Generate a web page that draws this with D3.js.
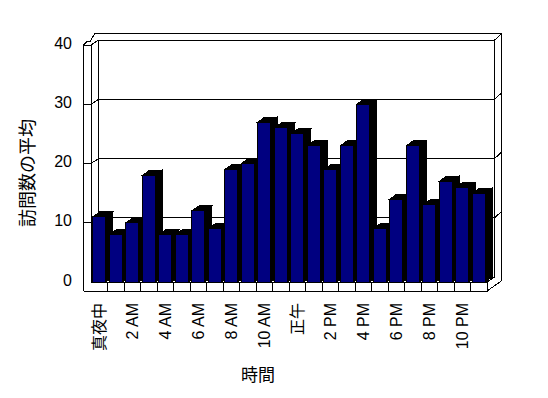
<!DOCTYPE html>
<html>
<head>
<meta charset="utf-8">
<script src="https://cdn.jsdelivr.net/npm/d3@7"></script>
<style>
  body { margin: 0; background: #fff; }
  svg { display: block; }
  text { font-family: "Liberation Sans", "Noto Sans CJK JP", sans-serif; fill: #000; }
</style>
</head>
<body>
<svg id="chart" width="548" height="398"></svg>
<script>
// data
const hours = ["真夜中", "1 AM", "2 AM", "3 AM", "4 AM", "5 AM", "6 AM", "7 AM", "8 AM", "9 AM", "10 AM", "11 AM",
               "正午", "1 PM", "2 PM", "3 PM", "4 PM", "5 PM", "6 PM", "7 PM", "8 PM", "9 PM", "10 PM", "11 PM"];
const visits = [11, 8, 10, 18, 8, 8, 12, 9, 19, 20, 27, 26, 25, 23, 19, 23, 30, 9, 14, 23, 13, 17, 16, 15];
const yTicks = [0, 10, 20, 30, 40];
const xTickLabels = hours.filter((d, i) => i % 2 === 0);
const yTitle = "訪問数の平均";
const xTitle = "時間";

const svg = d3.select("#chart");

// front plane of the plot
const plotLeft = 91, plotRight = 487, plotBase = 282, plotTop = 45;
const dx = 7.7, dy = -5;        // depth of the plot box
const wx = 7, wy = -6.5;        // back wall thickness
const sideX = 83.5;             // outer face of side wall
const floorBottom = 291;

const x = d3.scaleBand().domain(hours).range([plotLeft, plotRight])
  .paddingInner(0.23).paddingOuter(0.115);
const y = d3.scaleLinear().domain([0, 40]).range([plotBase, plotTop]);

const line = d3.line();
const frame = svg.append("g")
  .attr("fill", "none").attr("stroke", "#000").attr("stroke-width", 1)
  .attr("shape-rendering", "crispEdges");

// back wall face
frame.append("rect")
  .attr("x", plotLeft + dx).attr("y", y(40) + dy)
  .attr("width", plotRight - plotLeft).attr("height", y(0) - y(40))
  .attr("fill", "#fff");

// outer edges of walls
frame.append("path").attr("d", line([
  [sideX, floorBottom], [sideX, y(40)], [sideX + 4.2, y(40) - 4], [plotLeft - 0.5, y(40) - 4],
  [plotLeft + dx - 4, y(40) + dy + wy], [plotRight + dx + wx, y(40) + dy + wy], [plotRight + dx + wx, plotBase + dy + 3.7]
]));
frame.append("path").attr("d", line([[plotLeft, plotBase], [plotLeft, y(40)]]));

// gridlines through side wall, back wall and its thickness
yTicks.filter(v => v > 0).forEach(v => {
  frame.append("path").attr("d", line([
    [sideX, y(v)], [plotLeft, y(v)], [plotLeft + dx, y(v) + dy],
    [plotRight + dx, y(v) + dy], [plotRight + dx + wx, y(v) + dy + wy]
  ]));
});

// floor
frame.append("path").attr("d", line([[plotLeft, plotBase], [plotLeft + dx, plotBase + dy]]));
frame.append("path").attr("d", line([[plotRight, plotBase], [plotRight + dx, plotBase + dy]]));
frame.append("path").attr("d", line([[plotRight, floorBottom], [plotRight + dx + wx, plotBase + dy + 3.7]]));
frame.append("path").attr("d", line([[plotLeft, plotBase], [plotRight, plotBase], [plotRight, floorBottom], [sideX, floorBottom]]));
hours.slice(1).forEach(h => {
  const xx = x(h) - x.step() * 0.115;
  frame.append("path").attr("d", line([[xx, plotBase], [xx, floorBottom]]));
});

// bars
const bdx = 7, bdy = -5;
const bw = x.bandwidth();
const bars = svg.append("g").attr("shape-rendering", "crispEdges");
hours.forEach((h, i) => {
  const bx = x(h), by = y(visits[i]);
  const g = bars.append("g");
  g.append("path")
    .attr("d", line([[bx + bw, by], [bx + bw + bdx, by + bdy], [bx + bw + bdx, plotBase + bdy], [bx + bw, plotBase]]) + "Z")
    .attr("fill", "#000").attr("stroke", "#000");
  g.append("path")
    .attr("d", line([[bx, by], [bx + bdx, by + bdy], [bx + bw + bdx, by + bdy], [bx + bw, by]]) + "Z")
    .attr("fill", "#000").attr("stroke", "#000");
  g.append("rect")
    .attr("x", bx).attr("y", by).attr("width", bw).attr("height", plotBase - by)
    .attr("fill", "#000080").attr("stroke", "#000");
});

// y tick labels
svg.append("g").selectAll("text").data(yTicks).join("text")
  .attr("x", 72).attr("y", d => y(d) - 2)
  .attr("text-anchor", "end").attr("dominant-baseline", "central")
  .attr("font-size", 16)
  .text(d => d);

// x tick labels
svg.append("g").selectAll("text").data(xTickLabels).join("text")
  .attr("transform", d => `translate(${x(d) + bw / 2 + 0.5},303) rotate(-90)`)
  .attr("text-anchor", "end").attr("dominant-baseline", "central")
  .attr("font-size", 16)
  .text(d => d);

// axis titles
svg.append("text")
  .attr("transform", "translate(28,173) rotate(-90)")
  .attr("text-anchor", "middle").attr("dominant-baseline", "central")
  .attr("font-size", 18)
  .text(yTitle);
svg.append("text")
  .attr("x", 258).attr("y", 375)
  .attr("text-anchor", "middle").attr("dominant-baseline", "central")
  .attr("font-size", 17)
  .text(xTitle);
</script>
</body>
</html>
